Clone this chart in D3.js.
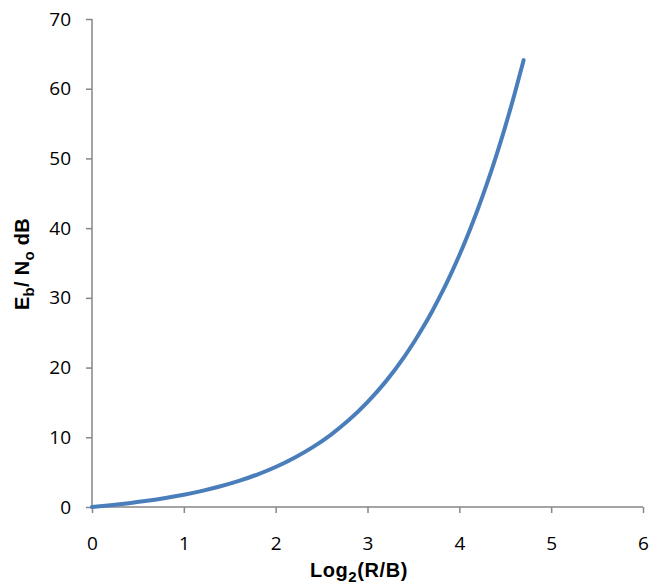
<!DOCTYPE html>
<html>
<head>
<meta charset="utf-8">
<script src="https://cdn.jsdelivr.net/npm/d3@7"></script>
<style>
  html, body { margin: 0; padding: 0; background: #fff; }
  svg { display: block; }
</style>
</head>
<body>
<svg id="chart" width="652" height="588"></svg>
<script>
// Data
const xValues = [0, 0.2, 0.4, 0.6, 0.8, 1.0, 1.2, 1.4, 1.6, 1.8, 2.0, 2.2, 2.4, 2.6, 2.8, 3.0, 3.2, 3.4, 3.5, 3.6, 3.7, 3.8, 3.9, 4.0, 4.1, 4.2, 4.3, 4.4, 4.5, 4.6, 4.7];
const yValues = [0, 0.25, 0.55, 0.89, 1.29, 1.76, 2.32, 2.97, 3.74, 4.66, 5.74, 7.03, 8.55, 10.36, 12.50, 15.04, 18.02, 21.54, 23.52, 25.67, 27.98, 30.49, 33.20, 36.12, 39.28, 42.68, 46.35, 50.31, 54.57, 59.16, 64.10];
const xTicks = [0, 1, 2, 3, 4, 5, 6];
const yTicks = [0, 10, 20, 30, 40, 50, 60, 70];

const svg = d3.select("#chart");
const mLeft = 92, mRight = 643, mTop = 19, mBottom = 507;

const x = d3.scaleLinear().domain([0, 6]).range([mLeft, mRight]);
const y = d3.scaleLinear().domain([0, 70]).range([mBottom, mTop]);

const axisColor = "#868686";
const tickFont = "'Open Sans', sans-serif";

// Y axis
const yAxis = svg.append("g")
  .attr("transform", `translate(${mLeft},0)`)
  .call(d3.axisLeft(y).tickValues(yTicks).tickSize(6).tickPadding(15).tickFormat(d3.format("d")));
// X axis
const xAxis = svg.append("g")
  .attr("transform", `translate(0,${mBottom})`)
  .call(d3.axisBottom(x).tickValues(xTicks).tickSize(6).tickPadding(24).tickFormat(d3.format("d")));

[yAxis, xAxis].forEach(g => {
  g.select(".domain").attr("stroke", axisColor).attr("stroke-width", 1.5);
  g.selectAll(".tick line").attr("stroke", axisColor).attr("stroke-width", 1.5);
  g.selectAll(".tick text")
    .attr("fill", "#000")
    .style("font-family", tickFont)
    .style("font-size", "19px");
});
yAxis.select(".domain").attr("d", `M0,${mBottom}V${mTop}`);
xAxis.select(".domain").attr("d", `M${mLeft},0H${mRight}`);

// Line
const pts = xValues.map((v, i) => [v, yValues[i]]);
svg.append("path")
  .datum(pts)
  .attr("fill", "none")
  .attr("stroke", "#4A7EBB")
  .attr("stroke-width", 4)
  .attr("stroke-linecap", "round")
  .attr("stroke-linejoin", "round")
  .attr("d", d3.line().x(d => x(d[0])).y(d => y(d[1])).curve(d3.curveMonotoneX));

// Axis titles
const titleFont = "'Liberation Sans', Arial, sans-serif";
const xt = svg.append("text")
  .attr("x", 359)
  .attr("y", 577)
  .attr("text-anchor", "middle")
  .style("font-family", titleFont)
  .style("font-weight", "bold")
  .style("letter-spacing", "0.6px")
  .style("font-size", "20px");
xt.append("tspan").text("Log");
xt.append("tspan").attr("dy", 5).style("font-size", "15px").text("2");
xt.append("tspan").attr("dy", -5).text("(R/B)");

const yt = svg.append("text")
  .attr("transform", `translate(29,264) rotate(-90)`)
  .attr("text-anchor", "middle")
  .style("font-family", titleFont)
  .style("font-weight", "bold")
  .style("letter-spacing", "0.3px")
  .style("font-size", "20px");
yt.append("tspan").text("E");
yt.append("tspan").attr("dy", 5).style("font-size", "15px").text("b");
yt.append("tspan").attr("dy", -5).text("/ N");
yt.append("tspan").attr("dy", 5).style("font-size", "15px").text("o");
yt.append("tspan").attr("dy", -5).text(" dB");
</script>
</body>
</html>
